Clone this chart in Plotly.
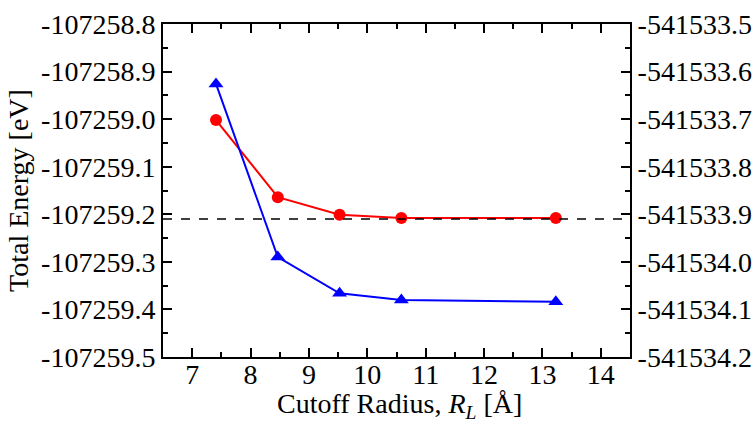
import plotly.graph_objects as go

# Data (cutoff radius in Angstrom)
radius = [7.408, 8.467, 9.525, 10.583, 13.229]
energy_red = [-107259.002, -107259.164, -107259.201, -107259.208, -107259.208]   # left axis
energy_blue = [-541533.626, -541533.990, -541534.066, -541534.080, -541534.084]  # right axis
reference_energy = -107259.21

left_ticks = [-107259.5, -107259.4, -107259.3, -107259.2, -107259.1, -107259.0, -107258.9, -107258.8]
left_labels = ["-107259.5", "-107259.4", "-107259.3", "-107259.2", "-107259.1", "-107259.0", "-107258.9", "-107258.8"]
right_ticks = [-541534.2, -541534.1, -541534.0, -541533.9, -541533.8, -541533.7, -541533.6, -541533.5]
right_labels = ["-541534.2", "-541534.1", "-541534.0", "-541533.9", "-541533.8", "-541533.7", "-541533.6", "-541533.5"]
x_ticks = [7, 8, 9, 10, 11, 12, 13, 14]
x_title = "Cutoff Radius, <i>R</i><sub><i>L</i></sub> [Å]"
y_title = "Total Energy [eV]"

FONT = "Liberation Serif, Times New Roman, Times, serif"
FS = 28

fig = go.Figure()
fig.add_trace(go.Scatter(x=radius, y=energy_red, mode="lines+markers",
                         line=dict(color="#ff0000", width=2),
                         marker=dict(symbol="circle", size=12, color="#ff0000"),
                         xaxis="x", yaxis="y", showlegend=False))
fig.add_trace(go.Scatter(x=radius, y=energy_blue, mode="lines+markers",
                         line=dict(color="#0000ff", width=2),
                         marker=dict(symbol="triangle-up", size=13, color="#0000ff"),
                         xaxis="x", yaxis="y2", showlegend=False))

fig.add_shape(type="line", xref="paper", x0=0, x1=1, yref="y",
              y0=reference_energy, y1=reference_energy,
              line=dict(color="black", width=1.5, dash="dash"))

common_tick = dict(ticks="inside", ticklen=9, tickwidth=1.5, tickcolor="black",
                   showline=True, linecolor="black", linewidth=2, showgrid=False,
                   zeroline=False, automargin=False)

fig.update_layout(
    width=752, height=422,
    margin=dict(l=163, r=122, t=24, b=65, autoexpand=False),
    paper_bgcolor="white", plot_bgcolor="white",
    font=dict(family=FONT, size=FS, color="black"),
    xaxis=dict(range=[6.5, 14.5], tickvals=x_ticks, **common_tick,
               ticklabelstandoff=-9,
               minor=dict(ticks="inside", ticklen=5, tickwidth=1.5, tickcolor="black",
                          tickmode="linear", tick0=6.5, dtick=0.5),
               tickfont=dict(family=FONT, size=FS)),
    xaxis2=dict(range=[6.5, 14.5], overlaying="x", side="top", tickvals=x_ticks,
                showticklabels=False, anchor="y", **common_tick,
                minor=dict(ticks="inside", ticklen=5, tickwidth=1.5, tickcolor="black",
                           tickmode="linear", tick0=6.5, dtick=0.5)),
    yaxis=dict(range=[-107259.5, -107258.8], tickmode="array", tickvals=left_ticks,
               ticktext=left_labels, **common_tick,
               minor=dict(ticks="inside", ticklen=5, tickwidth=1.5, tickcolor="black",
                          tickmode="linear", tick0=-107259.5, dtick=0.05),
               title=dict(text=y_title, font=dict(family=FONT, size=FS), standoff=4),
               tickfont=dict(family=FONT, size=FS)),
    yaxis2=dict(range=[-541534.2, -541533.5], overlaying="y", side="right",
                tickmode="array", tickvals=right_ticks, ticktext=right_labels,
                anchor="x", **common_tick,
                minor=dict(ticks="inside", ticklen=5, tickwidth=1.5, tickcolor="black",
                           tickmode="linear", tick0=-541534.2, dtick=0.05),
                tickfont=dict(family=FONT, size=FS)),
)
fig.add_annotation(text=x_title, xref="paper", yref="paper", x=0.507, y=-0.146,
                   xanchor="center", yanchor="middle", showarrow=False,
                   font=dict(family=FONT, size=FS, color="black"))
# dummy trace to activate the top axis
fig.add_trace(go.Scatter(x=[None], y=[None], xaxis="x2", yaxis="y", showlegend=False,
                         hoverinfo="skip"))

fig.write_html("out.html", config={"displayModeBar": False},
               post_script="document.body.style.margin='0';document.body.style.padding='0';")
